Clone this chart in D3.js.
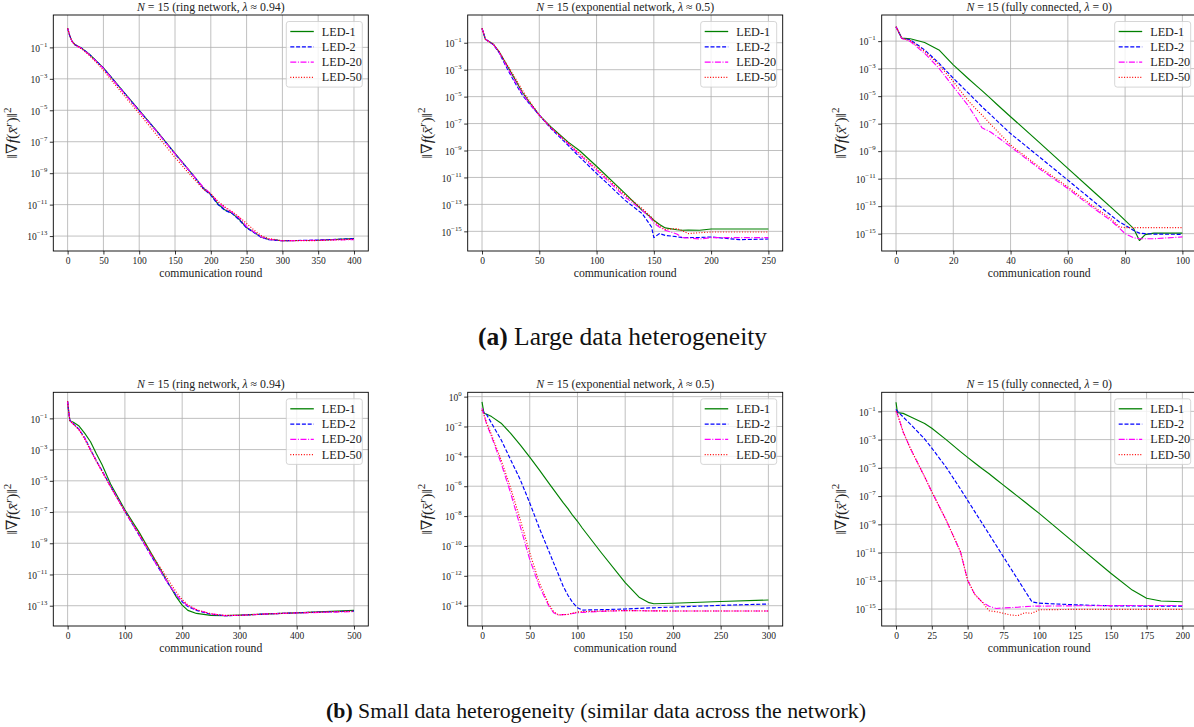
<!DOCTYPE html>
<html>
<head>
<meta charset="utf-8">
<script src="https://cdn.jsdelivr.net/npm/d3@7"></script>
<style>
  body { margin: 0; background: #fff; }
  svg { display: block; font-family: "Liberation Serif", "DejaVu Serif", serif; }
</style>
</head>
<body>
<svg id="chart" width="1194" height="727"></svg>
<script>
// ---- values: ||grad f(x_bar^r)||^2 per communication round ----

// (a) large heterogeneity, ring network
const ringLargeRounds = [0, 3, 6, 10, 20, 30, 40, 50, 75, 100, 125, 150, 175, 190, 200, 210, 220, 230, 240, 250, 260, 270, 280, 300, 350, 400];
const ringLargeLed1  = [1.62, 5.6e-1, 2.5e-1, 1.55e-1, 8.7e-2, 3.8e-2, 1.4e-2, 5.0e-3, 2.2e-4, 1.0e-5, 4.5e-7, 1.8e-8, 7.9e-10, 1.1e-10, 4.5e-11, 1.1e-11, 4.5e-12, 2.8e-12, 1.1e-12, 3.5e-13, 1.8e-13, 8.9e-14, 6.3e-14, 5.0e-14, 5.4e-14, 6.8e-14];
const ringLargeLed2  = [1.62, 5.6e-1, 2.5e-1, 1.5e-1, 8.5e-2, 3.7e-2, 1.35e-2, 4.8e-3, 2.1e-4, 9.5e-6, 4.3e-7, 1.7e-8, 7.5e-10, 1.0e-10, 4.0e-11, 1.0e-11, 4.2e-12, 2.7e-12, 1.0e-12, 3.3e-13, 1.7e-13, 8.5e-14, 6.0e-14, 5.0e-14, 5.6e-14, 6.9e-14];
const ringLargeLed20 = [1.62, 5.6e-1, 2.4e-1, 1.45e-1, 8.3e-2, 3.5e-2, 1.3e-2, 4.6e-3, 2.0e-4, 9.0e-6, 4.2e-7, 1.7e-8, 7.8e-10, 1.2e-10, 5.0e-11, 1.4e-11, 6.0e-12, 3.2e-12, 1.4e-12, 4.0e-13, 1.9e-13, 9.0e-14, 6.2e-14, 5.0e-14, 5.4e-14, 6.0e-14];
const ringLargeLed50 = [1.62, 5.6e-1, 2.5e-1, 1.5e-1, 7.9e-2, 3.2e-2, 1.1e-2, 3.5e-3, 1.4e-4, 6.3e-6, 2.5e-7, 1.0e-8, 5.0e-10, 8.9e-11, 5.0e-11, 1.6e-11, 7.1e-12, 3.5e-12, 1.6e-12, 6.3e-13, 2.5e-13, 1.1e-13, 7.1e-14, 5.0e-14, 5.2e-14, 6.3e-14];

// (a) large heterogeneity, exponential network
const expLargeRounds = [0, 3, 5, 10, 15, 20, 25, 30, 35, 40, 50, 60, 75, 85, 100, 125, 140, 148, 150, 155, 160, 170, 175, 180, 190, 200, 225, 250];
const expLargeLed1  = [1.17, 1.8e-1, 1.4e-1, 7.6e-2, 2.1e-2, 3.9e-3, 6.9e-4, 1.26e-4, 2.2e-5, 5.6e-6, 4.2e-7, 5.8e-8, 4.4e-9, 1.0e-9, 6.8e-11, 6.3e-13, 3.5e-14, 1.0e-14, 6.6e-15, 3.2e-15, 1.8e-15, 1.3e-15, 1.2e-15, 1.26e-15, 1.2e-15, 1.5e-15, 1.5e-15, 1.5e-15];
const expLargeLed2  = [1.17, 1.8e-1, 1.4e-1, 7.1e-2, 1.8e-2, 2.5e-3, 4.0e-4, 7.1e-5, 1.4e-5, 4.0e-6, 4.2e-7, 4.5e-8, 2.5e-9, 3.4e-10, 2.0e-11, 2.0e-13, 2.0e-14, 2.1e-15, 3.4e-16, 6.8e-16, 5.0e-16, 4.0e-16, 3.4e-16, 3.5e-16, 3.5e-16, 3.8e-16, 2.4e-16, 2.7e-16];
const expLargeLed20 = [1.17, 1.8e-1, 1.4e-1, 7.1e-2, 1.9e-2, 3.2e-3, 5.2e-4, 9.5e-5, 1.8e-5, 4.5e-6, 4.2e-7, 5.0e-8, 3.3e-9, 5.0e-10, 3.5e-11, 3.5e-13, 3.6e-14, 7.9e-15, 4.2e-15, 2.0e-15, 1.2e-15, 6.3e-16, 3.4e-16, 3.2e-16, 2.7e-16, 3.4e-16, 3.4e-16, 3.4e-16];
const expLargeLed50 = [1.17, 1.8e-1, 1.4e-1, 7.6e-2, 2.2e-2, 4.2e-3, 8.9e-4, 1.7e-4, 3.2e-5, 7.1e-6, 4.2e-7, 5.2e-8, 3.7e-9, 6.3e-10, 4.6e-11, 4.8e-13, 4.9e-14, 1.1e-14, 6.6e-15, 2.5e-15, 1.35e-15, 1.6e-15, 1.1e-15, 6.8e-16, 7.9e-16, 8.9e-16, 8.9e-16, 8.9e-16];

// (a) large heterogeneity, fully connected
const fullLargeRounds = [0, 2, 5, 10, 15, 20, 25, 28, 30, 33, 35, 40, 50, 60, 70, 75, 78, 80, 83, 85, 87, 90, 100];
const fullLargeLed1  = [1.12, 1.66e-1, 1.48e-1, 7.9e-2, 2.3e-2, 1.9e-3, 2.1e-4, 5.8e-5, 2.5e-5, 6.8e-6, 2.8e-6, 3.2e-7, 4.3e-9, 5.6e-11, 7.4e-13, 8.5e-14, 2.3e-14, 9.3e-15, 2.3e-15, 3.2e-16, 8.5e-16, 1.1e-15, 1.1e-15];
const fullLargeLed2  = [1.12, 1.6e-1, 1.26e-1, 2.3e-2, 2.5e-3, 2.0e-4, 1.9e-5, 4.5e-6, 1.7e-6, 4.5e-7, 1.8e-7, 1.9e-8, 3.9e-10, 7.8e-12, 1.5e-13, 2.2e-14, 7.1e-15, 4.1e-15, 1.7e-15, 1.1e-15, 1.0e-15, 9.3e-16, 8.9e-16];
const fullLargeLed20 = [1.12, 1.6e-1, 9.5e-2, 1.3e-2, 1.07e-3, 4.9e-5, 2.3e-6, 2.5e-7, 5.0e-8, 2.5e-8, 1.26e-8, 2.1e-9, 5.5e-11, 1.9e-12, 5.0e-14, 9.3e-15, 2.5e-15, 1.0e-15, 5.0e-16, 4.3e-16, 4.3e-16, 4.3e-16, 5.8e-16];
const fullLargeLed50 = [1.12, 1.6e-1, 1.1e-1, 1.8e-2, 1.9e-3, 1.15e-4, 5.2e-6, 1.1e-6, 4.3e-7, 9.3e-8, 3.4e-8, 2.8e-9, 7.2e-11, 2.5e-12, 6.6e-14, 1.26e-14, 3.1e-15, 2.75e-15, 2.75e-15, 2.75e-15, 2.75e-15, 2.75e-15, 2.75e-15];

// (b) small heterogeneity, ring network
const ringSmallRounds = [0, 2, 4, 10, 20, 30, 40, 50, 60, 75, 100, 125, 150, 175, 190, 200, 210, 225, 250, 275, 300, 350, 400, 450, 500];
const ringSmallLed1  = [1.12, 2.5e-1, 7.1e-2, 5.6e-2, 3.2e-2, 1.1e-2, 3.2e-3, 5.6e-4, 1.1e-4, 6.3e-6, 1.4e-7, 5.0e-9, 1.26e-10, 3.2e-12, 3.5e-13, 1.1e-13, 5.0e-14, 3.2e-14, 2.4e-14, 2.3e-14, 2.5e-14, 3.0e-14, 3.5e-14, 4.2e-14, 5.0e-14];
const ringSmallLed2  = [1.26, 2.5e-1, 7.1e-2, 4.5e-2, 2.0e-2, 5.6e-3, 1.0e-3, 2.0e-4, 4.5e-5, 4.5e-6, 1.1e-7, 3.2e-9, 8.9e-11, 2.8e-12, 4.5e-13, 1.8e-13, 8.9e-14, 5.0e-14, 2.8e-14, 2.3e-14, 2.4e-14, 3.0e-14, 3.5e-14, 4.0e-14, 4.5e-14];
const ringSmallLed20 = [1.26, 2.5e-1, 7.1e-2, 4.3e-2, 1.9e-2, 5.3e-3, 9.5e-4, 1.9e-4, 4.3e-5, 4.3e-6, 1.1e-7, 3.2e-9, 9.0e-11, 2.9e-12, 4.8e-13, 2.0e-13, 1.0e-13, 5.5e-14, 3.0e-14, 2.3e-14, 2.4e-14, 3.0e-14, 3.4e-14, 3.8e-14, 4.2e-14];
const ringSmallLed50 = [1.26, 2.5e-1, 7.1e-2, 4.2e-2, 1.8e-2, 4.5e-3, 8.9e-4, 1.8e-4, 4.0e-5, 4.0e-6, 1.1e-7, 4.0e-9, 1.26e-10, 5.0e-12, 7.1e-13, 2.5e-13, 1.1e-13, 5.6e-14, 3.0e-14, 2.4e-14, 2.4e-14, 3.0e-14, 3.5e-14, 4.0e-14, 4.5e-14];

// (b) small heterogeneity, exponential network
const expSmallRounds = [0, 2, 5, 10, 20, 30, 40, 50, 60, 70, 75, 80, 85, 90, 95, 100, 105, 125, 150, 165, 175, 180, 200, 250, 300];
const expSmallLed1  = [4.5e-1, 7.8e-2, 6.6e-2, 4.6e-2, 1.66e-2, 3.5e-3, 5.9e-4, 8.9e-5, 1.26e-5, 1.6e-6, 5.9e-7, 2.2e-7, 7.9e-8, 3.2e-8, 1.1e-8, 4.5e-9, 1.6e-9, 3.5e-11, 3.5e-13, 3.5e-14, 1.6e-14, 1.35e-14, 1.45e-14, 1.9e-14, 2.4e-14];
const expSmallLed2  = [1.3e-1, 8.9e-2, 6.0e-2, 1.66e-2, 1.3e-3, 5.9e-5, 2.8e-6, 7.6e-8, 1.6e-9, 4.5e-11, 7.4e-12, 1.26e-12, 2.0e-13, 5.0e-14, 1.6e-14, 7.4e-15, 5.1e-15, 5.4e-15, 6.0e-15, 6.6e-15, 7.1e-15, 7.2e-15, 8.1e-15, 1.05e-14, 1.3e-14];
const expSmallLed20 = [1.66e-1, 6.3e-2, 1.3e-2, 2.1e-3, 3.5e-5, 3.5e-7, 2.1e-9, 1.26e-11, 2.0e-13, 9.5e-15, 3.4e-15, 2.4e-15, 2.5e-15, 2.6e-15, 3.0e-15, 3.4e-15, 3.6e-15, 4.2e-15, 4.7e-15, 4.6e-15, 4.5e-15, 4.5e-15, 4.4e-15, 4.4e-15, 4.4e-15];
const expSmallLed50 = [1.3e-1, 6.3e-2, 1.66e-2, 2.75e-3, 5.9e-5, 7.6e-7, 5.9e-9, 3.5e-11, 3.5e-13, 1.2e-14, 4.0e-15, 2.4e-15, 2.5e-15, 2.6e-15, 3.2e-15, 3.8e-15, 4.0e-15, 4.4e-15, 4.7e-15, 4.6e-15, 4.5e-15, 4.5e-15, 4.4e-15, 4.4e-15, 4.4e-15];

// (b) small heterogeneity, fully connected
const fullSmallRounds = [0, 1, 5, 10, 20, 25, 35, 45, 50, 55, 60, 65, 70, 75, 80, 85, 90, 95, 100, 125, 150, 165, 175, 185, 200];
const fullSmallLed1  = [4.4e-1, 8.1e-2, 7.2e-2, 4.2e-2, 1.4e-2, 6.3e-3, 1.0e-3, 1.4e-4, 5.5e-5, 2.2e-5, 8.9e-6, 3.8e-6, 1.5e-6, 6.0e-7, 2.4e-7, 9.5e-8, 3.8e-8, 1.5e-8, 6.0e-9, 4.5e-11, 3.4e-13, 2.2e-14, 5.8e-15, 3.7e-15, 3.3e-15];
const fullSmallLed2  = [1.4e-1, 1.0e-1, 4.0e-2, 1.26e-2, 1.1e-3, 2.5e-4, 1.1e-5, 3.2e-7, 5.0e-8, 7.9e-9, 1.26e-9, 2.0e-10, 3.2e-11, 5.0e-12, 7.9e-13, 1.26e-13, 2.0e-14, 3.2e-15, 2.6e-15, 2.0e-15, 1.7e-15, 1.66e-15, 1.6e-15, 1.6e-15, 1.6e-15];
const fullSmallLed20 = [1.0e-1, 6.3e-2, 3.5e-3, 2.4e-4, 2.3e-6, 2.0e-7, 2.0e-9, 1.15e-11, 1.1e-13, 1.1e-14, 3.2e-15, 1.6e-15, 1.1e-15, 1.2e-15, 1.26e-15, 1.35e-15, 1.5e-15, 1.6e-15, 1.6e-15, 1.7e-15, 1.74e-15, 1.8e-15, 1.8e-15, 1.8e-15, 1.8e-15];
const fullSmallLed50 = [1.0e-1, 6.3e-2, 3.5e-3, 2.4e-4, 2.3e-6, 2.0e-7, 2.0e-9, 1.15e-11, 1.1e-13, 1.1e-14, 3.2e-15, 7.6e-16, 6.5e-16, 5.0e-16, 3.8e-16, 3.4e-16, 5.5e-16, 5.0e-16, 8.9e-16, 9.5e-16, 9.5e-16, 9.5e-16, 9.5e-16, 9.5e-16, 9.5e-16];

// legend / series
const seriesNames = ["LED-1", "LED-2", "LED-20", "LED-50"];
const seriesColors = ["#008000", "#0000ff", "#ff00ff", "#ff0000"];
const seriesDash = [null, "4,1.8", "6,1.6,1,1.6", "1,1.7"];

// titles
const networkNames = ["ring network", "exponential network", "fully connected"];
const lambdaTexts = ["\u2248 0.94", "\u2248 0.5", "= 0"];

// y tick exponents
const oddTo13 = [-1, -3, -5, -7, -9, -11, -13];
const oddTo15 = [-1, -3, -5, -7, -9, -11, -13, -15];
const evenTo14 = [0, -2, -4, -6, -8, -10, -12, -14];

const captions = [
  { label: "(a)", text: " Large data heterogeneity" },
  { label: "(b)", text: " Small data heterogeneity (similar data across the network)" }
];

// ---- layout ----
const colX = [53.3, 467.7, 881.7];
const colW = 315;
const rowY = [15, 392.3];
const rowH = [236, 233.7];

const panels = [
  { row: 0, col: 0, rounds: ringLargeRounds, series: [ringLargeLed1, ringLargeLed2, ringLargeLed20, ringLargeLed50], xMax: 400, xStep: 50, yExp: [-13.95, 1.06], yTicks: oddTo13 },
  { row: 0, col: 1, rounds: expLargeRounds, series: [expLargeLed1, expLargeLed2, expLargeLed20, expLargeLed50], xMax: 250, xStep: 50, yExp: [-16.46, 1.06], yTicks: oddTo15 },
  { row: 0, col: 2, rounds: fullLargeRounds, series: [fullLargeLed1, fullLargeLed2, fullLargeLed20, fullLargeLed50], xMax: 100, xStep: 20, yExp: [-16.26, 0.9], yTicks: oddTo15 },
  { row: 1, col: 0, rounds: ringSmallRounds, series: [ringSmallLed1, ringSmallLed2, ringSmallLed20, ringSmallLed50], xMax: 500, xStep: 100, yExp: [-14.3, 0.67], yTicks: oddTo13 },
  { row: 1, col: 1, rounds: expSmallRounds, series: [expSmallLed1, expSmallLed2, expSmallLed20, expSmallLed50], xMax: 300, xStep: 50, yExp: [-15.36, 0.29], yTicks: evenTo14 },
  { row: 1, col: 2, rounds: fullSmallRounds, series: [fullSmallLed1, fullSmallLed2, fullSmallLed20, fullSmallLed50], xMax: 200, xStep: 25, yExp: [-16.2, 0.35], yTicks: oddTo15 }
];

const svg = d3.select("#chart");
const gridColor = "#b0b0b0";
const serif = "Liberation Serif, DejaVu Serif, serif";

panels.forEach(p => {
  const left = colX[p.col], top = rowY[p.row], h = rowH[p.row];
  const right = left + colW, bottom = top + h;

  const x = d3.scaleLinear().domain([-0.05 * p.xMax, 1.05 * p.xMax]).range([left, right]);
  const y = d3.scaleLog().domain([10 ** p.yExp[0], 10 ** p.yExp[1]]).range([bottom, top]);

  const g = svg.append("g");
  const xTicks = d3.range(0, p.xMax + 1, p.xStep);
  const yTicks = p.yTicks.map(e => 10 ** e);

  // grid
  g.append("g").selectAll("line").data(xTicks).join("line")
    .attr("x1", d => x(d)).attr("x2", d => x(d))
    .attr("y1", top).attr("y2", bottom)
    .attr("stroke", gridColor).attr("stroke-width", 0.8);
  g.append("g").selectAll("line").data(yTicks).join("line")
    .attr("x1", left).attr("x2", right)
    .attr("y1", d => y(d)).attr("y2", d => y(d))
    .attr("stroke", gridColor).attr("stroke-width", 0.8);

  // axes
  const xAxis = g.append("g").attr("transform", `translate(0,${bottom})`)
    .call(d3.axisBottom(x).tickValues(xTicks).tickSize(3.5).tickPadding(2.5).tickFormat(d3.format("d")));
  const yAxis = g.append("g").attr("transform", `translate(${left},0)`)
    .call(d3.axisLeft(y).tickValues(yTicks).tickSize(3.5).tickPadding(2.5));
  [xAxis, yAxis].forEach(a => {
    a.attr("font-family", serif);
    a.select(".domain").remove();
    a.selectAll(".tick line").attr("stroke", "#000").attr("stroke-width", 0.8);
    a.selectAll(".tick text").attr("font-size", 9.5).attr("fill", "#222");
  });
  yAxis.selectAll(".tick text").each(function (d, i) {
    const t = d3.select(this).text("10").attr("dy", "0.4em");
    const e = p.yTicks[i];
    t.append("tspan").attr("dy", "-0.75em").attr("font-size", 6.8)
      .text(e === 0 ? "0" : "\u2212" + Math.abs(e));
  });

  // curves
  const line = d3.line()
    .x((d, i) => x(p.rounds[i]))
    .y(d => y(d));
  p.series.forEach((vals, k) => {
    g.append("path")
      .datum(vals)
      .attr("d", line)
      .attr("fill", "none")
      .attr("stroke", seriesColors[k])
      .attr("stroke-width", 1.15)
      .attr("stroke-dasharray", seriesDash[k])
      .attr("stroke-linejoin", "round");
  });

  // frame
  g.append("rect")
    .attr("x", left).attr("y", top).attr("width", colW).attr("height", h)
    .attr("fill", "none").attr("stroke", "#000").attr("stroke-width", 0.9);

  // title
  const title = g.append("text")
    .attr("x", (left + right) / 2).attr("y", top - 4)
    .attr("text-anchor", "middle").attr("font-size", 11.8).attr("fill", "#222");
  title.append("tspan").attr("font-style", "italic").text("N");
  title.append("tspan").text(` = 15 (${networkNames[p.col]}, `);
  title.append("tspan").attr("font-style", "italic").text("\u03bb");
  title.append("tspan").text(` ${lambdaTexts[p.col]})`);

  // x label
  g.append("text")
    .attr("x", (left + right) / 2).attr("y", bottom + 26)
    .attr("text-anchor", "middle").attr("font-size", 11.7).attr("fill", "#222")
    .text("communication round");

  // y label
  const yl = g.append("text")
    .attr("transform", `translate(${left - 36},${(top + bottom) / 2}) rotate(-90)`)
    .attr("text-anchor", "middle").attr("font-size", 15.5).attr("fill", "#222");
  yl.append("tspan").text("\u2016\u2207");
  yl.append("tspan").attr("font-style", "italic").text("f");
  yl.append("tspan").text("(");
  yl.append("tspan").attr("font-style", "italic").text("x\u0304");
  yl.append("tspan").attr("font-style", "italic").attr("font-size", 11).attr("dy", -5.5).text("r");
  yl.append("tspan").attr("dy", 5.5).text(")\u2016");
  yl.append("tspan").attr("font-size", 11).attr("dy", -6.5).text("2");

  // legend
  const lw = 76, lh = 65.6;
  const lx = right - 6 - lw, ly = top + 6.5;
  const leg = g.append("g");
  leg.append("rect")
    .attr("x", lx).attr("y", ly).attr("width", lw).attr("height", lh)
    .attr("rx", 2.5).attr("fill", "#fff").attr("fill-opacity", 0.8)
    .attr("stroke", "#cccccc").attr("stroke-width", 0.8);
  seriesNames.forEach((name, k) => {
    const yy = ly + 10 + k * 15.3;
    leg.append("line")
      .attr("x1", lx + 4).attr("x2", lx + 27.5).attr("y1", yy).attr("y2", yy)
      .attr("stroke", seriesColors[k]).attr("stroke-width", 1.3)
      .attr("stroke-dasharray", seriesDash[k]);
    leg.append("text")
      .attr("x", lx + 35.5).attr("y", yy + 4)
      .attr("font-size", 12.2).attr("fill", "#222")
      .text(name);
  });
});

// sub-figure captions
const capPos = [{ x: 478, y: 345, size: 25.5 }, { x: 326, y: 718, size: 21.8 }];
captions.forEach((c, i) => {
  const t = svg.append("text")
    .attr("x", capPos[i].x).attr("y", capPos[i].y)
    .attr("font-size", capPos[i].size).attr("fill", "#111");
  t.append("tspan").attr("font-weight", "bold").text(c.label);
  t.append("tspan").text(c.text);
});
</script>
</body>
</html>
